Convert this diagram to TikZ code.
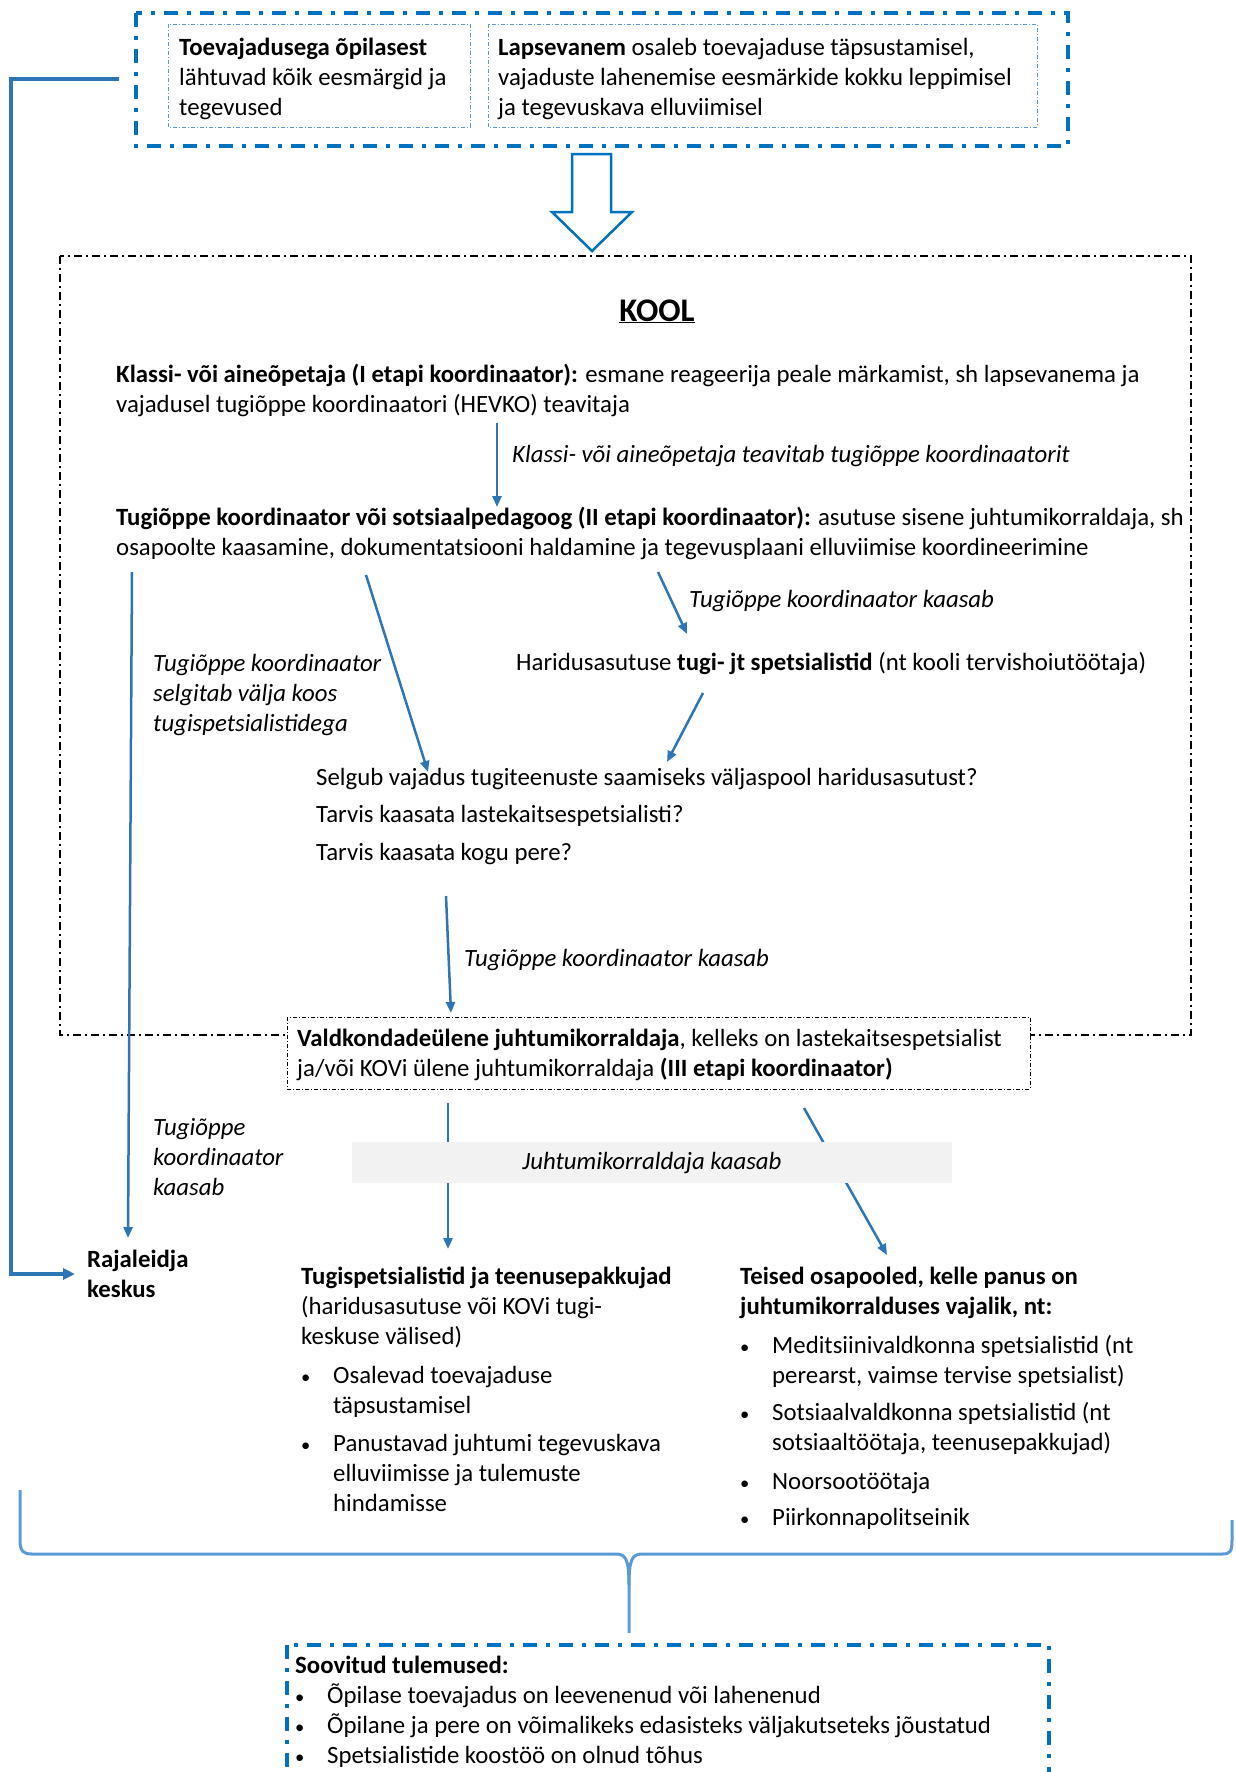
\documentclass[tikz,border=0pt]{standalone}
\usepackage{fontspec}
\setmainfont{Carlito}
\usetikzlibrary{arrows.meta}
\definecolor{bluea}{HTML}{0070C0}
\definecolor{blueb}{HTML}{2E75B6}
\definecolor{bluec}{HTML}{5B9BD5}
\definecolor{greyband}{HTML}{F2F2F2}
\newcommand\fstrut{\rule{0pt}{24pt}}
\newcommand\bul{\makebox[32pt][l]{\scalebox{0.75}{•}}}
\newcommand\ind{\hspace*{32pt}}
\begin{document}
\begin{tikzpicture}[x=1pt,y=-1pt,
  txt/.style={anchor=north west, inner sep=0pt, align=left, font=\fontsize{24.8}{30}\selectfont},
  itl/.style={txt, font=\fontsize{24.8}{30}\selectfont\itshape},
  outerbox/.style={draw=bluea, line width=4pt, dash pattern=on 14pt off 9pt on 4pt off 9pt},
  innerbox/.style={draw=bluec, line width=1pt, dash pattern=on 4pt off 2pt on 1pt off 2pt},
  koolbox/.style={draw=black, line width=1.2pt, dash pattern=on 8pt off 4pt on 2pt off 4pt},
  vbox/.style={draw=black, line width=1pt, fill=white, dash pattern=on 4pt off 2pt on 1pt off 2pt},
  arr/.style={draw=blueb, line width=2.5pt, -{Triangle[length=11pt,width=9pt]}},
  elbow/.style={draw=blueb, line width=3.5pt, -{Triangle[length=12pt,width=11pt]}},
  brace/.style={draw=bluec, line width=3pt, line join=round}
]
\useasboundingbox (0,0) rectangle (1235,1772);

% top box
\draw[outerbox] (136,13) rectangle (1068,146);
\draw[innerbox] (168,24) rectangle (470,127);
\draw[innerbox] (488,24) rectangle (1037,127);
\node[txt] (t1) at (179,31) {\fstrut\textbf{Toevajadusega õpilasest}\\lähtuvad kõik eesmärgid ja\\tegevused};
\node[txt] (t2) at (498,31) {\fstrut\textbf{Lapsevanem} osaleb toevajaduse täpsustamisel,\\vajaduste lahenemise eesmärkide kokku leppimisel\\ja tegevuskava elluviimisel};

% big hollow arrow
\draw[draw=bluea, line width=2.5pt, fill=white, line join=miter]
  (572,154) -- (611,154) -- (611,212) -- (632,212) -- (592,251) -- (552,212) -- (572,212) -- cycle;

% KOOL box
\draw[koolbox] (60,256) rectangle (1191,1035);
\node[anchor=base, inner sep=0pt, font=\fontsize{33}{40}\selectfont\bfseries] (kool) at (657,321) {\underline{KOOL}};

\node[txt] (k1) at (116,358) {\fstrut\textbf{Klassi- või aineõpetaja (I etapi koordinaator):} esmane reageerija peale märkamist, sh lapsevanema ja\\vajadusel tugiõppe koordinaatori (HEVKO) teavitaja};
\node[itl] (l1) at (512,438) {\fstrut Klassi- või aineõpetaja teavitab tugiõppe koordinaatorit};
\node[txt] (k2) at (116,501) {\fstrut\textbf{Tugiõppe koordinaator või sotsiaalpedagoog (II etapi koordinaator):} asutuse sisene juhtumikorraldaja, sh\\osapoolte kaasamine, dokumentatsiooni haldamine ja tegevusplaani elluviimise koordineerimine};
\node[itl] (l2) at (689,583) {\fstrut Tugiõppe koordinaator kaasab};
\node[txt] (h) at (516,646) {\fstrut Haridusasutuse \textbf{tugi- jt spetsialistid} (nt kooli tervishoiutöötaja)};
\node[itl] (l3) at (153,647) {\fstrut Tugiõppe koordinaator\\selgitab välja koos\\tugispetsialistidega};
\node[txt] (q) at (316,761) {\fstrut Selgub vajadus tugiteenuste saamiseks väljaspool haridusasutust?\\[7.5pt]Tarvis kaasata lastekaitsespetsialisti?\\[7.5pt]Tarvis kaasata kogu pere?};
\node[itl] (l4) at (464,942) {\fstrut Tugiõppe koordinaator kaasab};

% Valdkondadeulene box
\draw[vbox] (287,1017) rectangle (1030,1089);
\node[txt] (v) at (297,1022) {\fstrut\textbf{Valdkondadeülene juhtumikorraldaja}, kelleks on lastekaitsespetsialist\\ja/või KOVi ülene juhtumikorraldaja \textbf{(III etapi koordinaator)}};

\node[itl] (l5) at (153,1111) {\fstrut Tugiõppe\\koordinaator\\kaasab};

% coordinates for arrows
\coordinate (a1s) at (497,423); \coordinate (a1e) at (497,507);
\coordinate (a2s) at (132,572); \coordinate (a2e) at (128,1238);
\coordinate (a3s) at (366,575); \coordinate (a3e) at (428,772);
\coordinate (a4s) at (658,572); \coordinate (a4e) at (687,634);
\coordinate (a5s) at (703,693); \coordinate (a5e) at (667,762);
\coordinate (a6s) at (446,896); \coordinate (a6e) at (451,1013);
\coordinate (a7s) at (448,1103); \coordinate (a7e) at (448,1249);
\coordinate (a8s) at (804,1108); \coordinate (a8e) at (887,1255);
\coordinate (e0) at (119,79); \coordinate (e1) at (11,79); \coordinate (e2) at (11,1274); \coordinate (e3) at (75,1274);

\draw[arr] (a1s) -- (a1e);
\draw[arr] (a2s) -- (a2e);
\draw[arr] (a3s) -- (a3e);
\draw[arr] (a4s) -- (a4e);
\draw[arr] (a5s) -- (a5e);
\draw[arr] (a6s) -- (a6e);
\draw[arr] (a7s) -- (a7e);
\draw[arr] (a8s) -- (a8e);
\draw[elbow] (e0) -- (e1) -- (e2) -- (e3);

% grey band
\fill[greyband] (352,1142) rectangle (952,1183);
\node[anchor=center, inner sep=0pt, font=\fontsize{24.8}{30}\selectfont\itshape] (band) at (652,1163) {Juhtumikorraldaja kaasab};

% bottom texts
\node[txt, font=\fontsize{24.8}{30}\selectfont\bfseries] (r) at (87,1243) {\fstrut Rajaleidja\\keskus};
\node[txt] (s) at (301,1260) {\fstrut\textbf{Tugispetsialistid ja teenusepakkujad}\\(haridusasutuse või KOVi tugi-\\keskuse välised)\\[9pt]\bul Osalevad toevajaduse\\\ind täpsustamisel\\[8pt]\bul Panustavad juhtumi tegevuskava\\\ind elluviimisse ja tulemuste\\\ind hindamisse};
\node[txt] (o) at (740,1260) {\fstrut\textbf{Teised osapooled, kelle panus on}\\\textbf{juhtumikorralduses vajalik, nt:}\\[9pt]\bul Meditsiinivaldkonna spetsialistid (nt\\\ind perearst, vaimse tervise spetsialist)\\[7pt]\bul Sotsiaalvaldkonna spetsialistid (nt\\\ind sotsiaaltöötaja, teenusepakkujad)\\[9pt]\bul Noorsootöötaja\\[6pt]\bul Piirkonnapolitseinik};

% brace
\draw[brace] (20,1490) -- (20,1540) .. controls (20,1552) and (24,1554) .. (32,1554)
  -- (616,1554) .. controls (626,1554) and (629,1560) .. (629,1585) -- (629,1633);
\draw[brace] (629,1585) .. controls (629,1560) and (632,1554) .. (642,1554)
  -- (1222,1554) .. controls (1230,1554) and (1232,1552) .. (1232,1540) -- (1232,1520);
\coordinate (bracetip) at (629,1633);

% bottom box
\draw[outerbox, line width=3.5pt] (287,1645) rectangle (1049,1800);
\node[txt] (b) at (295,1649) {\fstrut\textbf{Soovitud tulemused:}\\\bul Õpilase toevajadus on leevenenud või lahenenud\\\bul Õpilane ja pere on võimalikeks edasisteks väljakutseteks jõustatud\\\bul Spetsialistide koostöö on olnud tõhus};
\end{tikzpicture}
\end{document}
